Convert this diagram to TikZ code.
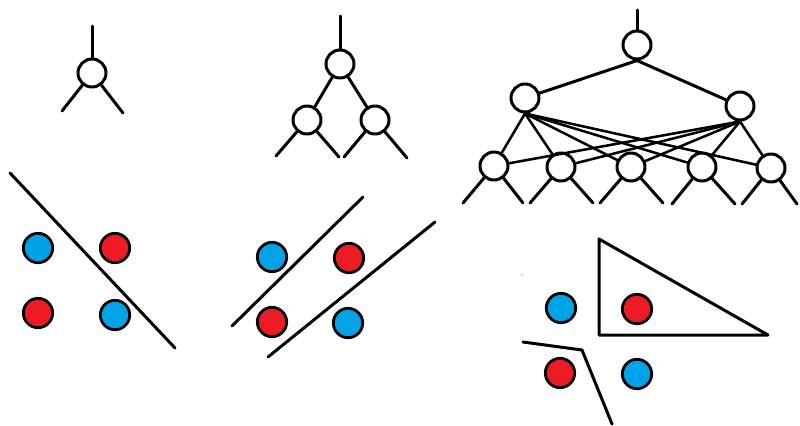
\documentclass[tikz,border=0pt]{standalone}
\usepackage{tikz}
\definecolor{pred}{HTML}{ED1C24}
\definecolor{pblue}{HTML}{00A2E8}
\begin{document}
\begin{tikzpicture}[x=0.75pt,y=-0.75pt,
  line width=2.25pt, line cap=round, line join=round,
  neuron/.style={circle,draw=black,fill=white,line width=2.25pt,inner sep=0pt,minimum size=21pt},
  rdot/.style={circle,draw=black,fill=pred,line width=2.1pt,inner sep=0pt,minimum size=22pt},
  bdot/.style={circle,draw=black,fill=pblue,line width=2.1pt,inner sep=0pt,minimum size=22pt}]
\useasboundingbox (0,0) rectangle (800,425);

% ---- single neuron
\node[neuron] (a) at (92,73) {};
\coordinate (at) at (92,26);
\coordinate (al) at (62,111);
\coordinate (ar) at (123,113);
\draw (a) -- (at);
\draw (a) -- (al);
\draw (a) -- (ar);

% ---- small tree
\node[neuron] (t0) at (340,64) {};
\node[neuron] (t1) at (307,120) {};
\node[neuron] (t2) at (375,120) {};
\coordinate (tt) at (340,16);
\coordinate (t1l) at (276,156);
\coordinate (t1r) at (339,157);
\coordinate (t2l) at (344,157);
\coordinate (t2r) at (407,158);
\draw (t0) -- (tt);
\draw (t0) -- (t1);
\draw (t0) -- (t2);
\draw (t1) -- (t1l);
\draw (t1) -- (t1r);
\draw (t2) -- (t2l);
\draw (t2) -- (t2r);

% ---- network
\node[neuron] (r) at (637,45) {};
\node[neuron] (hl) at (525,98) {};
\node[neuron] (hr) at (740,106) {};
\node[neuron] (b1) at (494,166) {};
\node[neuron] (b2) at (561,167) {};
\node[neuron] (b3) at (631,167) {};
\node[neuron] (b4) at (702,167) {};
\node[neuron] (b5) at (771,168) {};
\coordinate (rt) at (637,10);
\draw (r) -- (rt);
\draw (r.south) -- (hl);
\draw (r.south) -- (hr);
\foreach \b in {b1,b2,b3,b4,b5}{
  \draw[line width=1.9pt] (hl.south) -- (\b);
  \draw[line width=1.9pt] (hr.south) -- (\b);
}
\coordinate (b1l) at (463,203); \coordinate (b1r) at (523,203);
\coordinate (b2l) at (530,203); \coordinate (b2r) at (593,203);
\coordinate (b3l) at (600,203); \coordinate (b3r) at (663,203);
\coordinate (b4l) at (672,204); \coordinate (b4r) at (735,204);
\coordinate (b5l) at (742,204); \coordinate (b5r) at (797,204);
\foreach \b in {b1,b2,b3,b4,b5}{
  \draw (\b) -- (\b l);
  \draw (\b) -- (\b r);
}

% ---- bottom left: one line
\coordinate (p1a) at (10,173);
\coordinate (p1b) at (175,348);
\draw (p1a) -- (p1b);
\node[bdot] (c1) at (38,248) {};
\node[rdot] (c2) at (115,248) {};
\node[rdot] (c3) at (38,313) {};
\node[bdot] (c4) at (115,315) {};

% ---- bottom middle: two lines
\coordinate (p2a) at (232,326);
\coordinate (p2b) at (363,197);
\coordinate (p3a) at (268,357);
\coordinate (p3b) at (435,222);
\draw (p2a) -- (p2b);
\draw (p3a) -- (p3b);
\node[bdot] (d1) at (272,257) {};
\node[rdot] (d2) at (349,258) {};
\node[rdot] (d3) at (272,322) {};
\node[bdot] (d4) at (348,323) {};

% ---- bottom right: triangle and polyline
\coordinate (q1) at (599,239);
\coordinate (q2) at (599,335);
\coordinate (q3) at (768,335);
\draw (q1) -- (q2) -- (q3) -- cycle;
\coordinate (s1) at (523,342);
\coordinate (s2) at (582,350);
\coordinate (s3) at (612,424);
\draw (s1) -- (s2) -- (s3);
\fill[gray!70] (522,275) circle (0.8);
\node[bdot] (e1) at (561,308) {};
\node[rdot] (e2) at (637,309) {};
\node[rdot] (e3) at (560,373) {};
\node[bdot] (e4) at (637,374) {};
\end{tikzpicture}
\end{document}
